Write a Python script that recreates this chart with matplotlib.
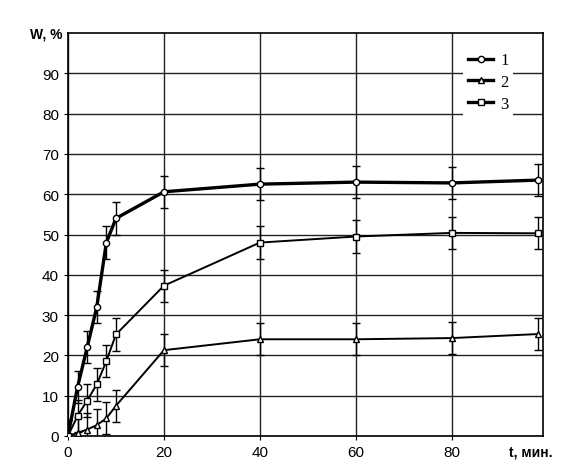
import matplotlib.pyplot as plt

# Data
t = [0, 2, 4, 6, 8, 10, 20, 40, 60, 80, 98]
w1 = [0, 12.2, 22, 32, 48, 54, 60.6, 62.5, 63, 62.8, 63.5]
w2 = [0, 0.8, 1.6, 2.7, 4.4, 7.5, 21.3, 24, 24, 24.3, 25.3]
w3 = [0, 5, 8.8, 12.8, 18.6, 25.2, 37.3, 48, 49.5, 50.4, 50.3]
err = 4
labels = ["1", "2", "3"]

fig = plt.figure(figsize=(5.85, 4.64), dpi=100)
ax = fig.add_axes([0.1162, 0.0582, 0.812, 0.8685])

styles = [(w1, "o", 2.4), (w2, "^", 1.4), (w3, "s", 1.4)]
for (w, m, lw), lab in zip(styles, labels):
    ax.errorbar(t, w, yerr=err, fmt="none", ecolor="black", elinewidth=1,
                capsize=3, capthick=1, zorder=3)
    ax.plot(t, w, color="black", lw=lw, marker=m, markersize=4.5,
            markerfacecolor="white", markeredgecolor="black",
            markeredgewidth=1, label=lab, zorder=4)

ax.set_xlim(0, 99)
ax.set_ylim(0, 100)
ax.set_xticks([0, 20, 40, 60, 80])
ax.set_yticks(range(0, 100, 10))
ax.grid(True, color="#222222", lw=1)
ax.set_axisbelow(True)
for s in ax.spines.values():
    s.set_color("black")
    s.set_linewidth(1.2)
ax.tick_params(length=3, labelsize=11, colors="black")
for lbl in ax.get_xticklabels() + ax.get_yticklabels():
    lbl.set_family("Liberation Sans")

fig.text(0.052, 0.925, "W, %", fontsize=10, fontweight="bold",
         family="Liberation Sans", va="center")
fig.text(0.87, 0.025, "t, мин.", fontsize=10, fontweight="bold",
         family="Liberation Sans", va="center")

leg = ax.legend(loc="upper left", bbox_to_anchor=(0.815, 0.985),
                prop={"family": "Liberation Serif", "size": 12},
                handlelength=1.5, handletextpad=0.4, labelspacing=0.35,
                borderpad=0.3, framealpha=1, fancybox=False)
leg.get_frame().set_edgecolor("none")
for h in leg.get_lines():
    h.set_linewidth(2.4)

fig.savefig("out.png", dpi=100)
